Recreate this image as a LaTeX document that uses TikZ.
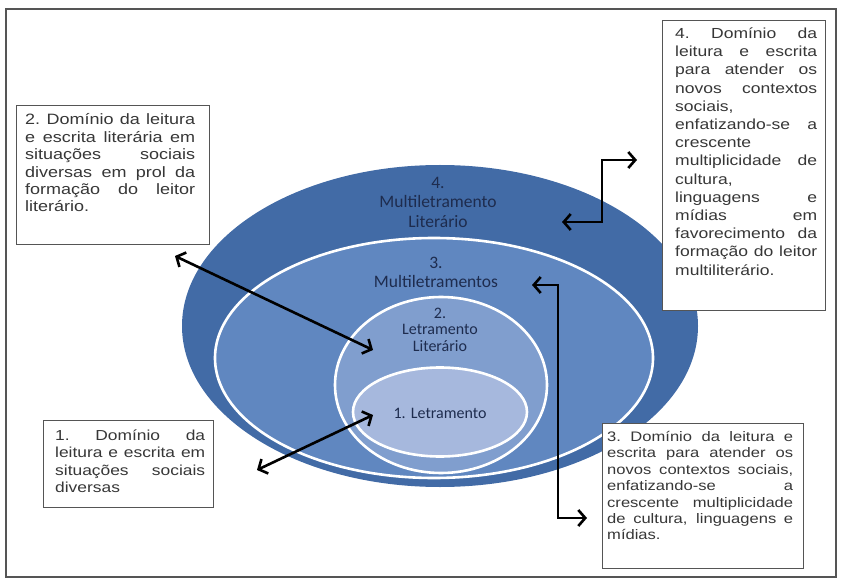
\documentclass[tikz,border=0pt]{standalone}
\usepackage{fontspec}
\setmainfont{Liberation Sans}
\newfontfamily\boxfont{Liberation Sans}[FakeStretch=1.2]
\newfontfamily\lblfont{Carlito}
\usetikzlibrary{arrows.meta,shapes.geometric}
\definecolor{blueA}{RGB}{66,107,166}
\definecolor{blueB}{RGB}{96,135,192}
\definecolor{blueC}{RGB}{128,158,206}
\definecolor{blueD}{RGB}{166,184,221}
\definecolor{navy}{RGB}{30,44,78}
\definecolor{boxtext}{RGB}{55,55,55}
\definecolor{boxline}{RGB}{85,85,85}
\newlength\jw
\newcommand\jline[1]{\leavevmode\hbox to \jw{\spaceskip=.25em plus 1fil\xspaceskip=.25em plus 1fil\relax #1}}
\tikzset{
  ring/.style={ellipse, inner sep=0pt, draw=white, line width=2.6pt},
  lbl/.style={text=navy, align=center, text width=170pt, inner sep=0pt, anchor=base},
  infobox/.style={draw=boxline, line width=1.4pt, fill=white, anchor=north west, inner sep=0pt},
  boxtxt/.style={text=boxtext, align=left, inner sep=0pt, anchor=base west},
  arr/.style={line width=2.6pt, black, {Straight Barb[length=7pt,width=16pt]}-{Straight Barb[length=7pt,width=16pt]}}
}
\begin{document}
\begin{tikzpicture}[x=1pt,y=-1pt]
\useasboundingbox (0,0) rectangle (841,580);
\fill[white] (0,0) rectangle (841,580);
\draw[line width=1.6pt, boxline] (6,9) rectangle (836,577);

% ellipses
\node[ellipse, inner sep=0pt, fill=blueA, minimum width=516pt, minimum height=322pt] (e4) at (440,326) {};
\node[ring, fill=blueB, minimum width=438pt, minimum height=240pt] (e3) at (434,358) {};
\node[ring, fill=blueC, minimum width=212pt, minimum height=176pt] (e2) at (441,385) {};
\node[ring, fill=blueD, minimum width=174pt, minimum height=89pt] (e1) at (440,412) {};

% ellipse labels
\node[lbl, font=\lblfont\fontsize{17.5}{19.5}\selectfont] (l4) at (438,188.5) {4.\\Multiletramento\\Literário};
\node[lbl, font=\lblfont\fontsize{17.5}{19.5}\selectfont] (l3) at (436,268.5) {3.\\Multiletramentos};
\node[lbl, font=\lblfont\fontsize{16}{16.5}\selectfont] (l2) at (440,318) {2.\\Letramento\\Literário};
\node[lbl, font=\lblfont\fontsize{16}{18}\selectfont] (l1) at (440,418) {1.\ Letramento};

% boxes
\node[infobox, minimum width=193pt, minimum height=139pt] (b2) at (16,105) {};
\node[boxtxt, text width=170pt, font=\boxfont\fontsize{15}{17.4}\selectfont] (t2) at (25,125) {%
\setlength\jw{170pt}%
\jline{2. Domínio da leitura}\\
\jline{e escrita literária em}\\
\jline{situações sociais}\\
\jline{diversas em prol da}\\
\jline{formação do leitor}\\
literário.};

\node[infobox, minimum width=163pt, minimum height=290pt] (b4) at (662,20) {};
\node[boxtxt, text width=142pt, font=\boxfont\fontsize{14.6}{18.2}\selectfont] (t4) at (675,38.5) {%
\setlength\jw{142pt}%
\jline{4. Domínio da}\\
\jline{leitura e escrita}\\
\jline{para atender os}\\
\jline{novos contextos}\\
sociais,\\
\jline{enfatizando-se a}\\
crescente\\
\jline{multiplicidade de}\\
cultura,\\
\jline{linguagens e}\\
\jline{mídias em}\\
\jline{favorecimento da}\\
\jline{formação do leitor}\\
multiliterário.};

\node[infobox, minimum width=170pt, minimum height=87pt] (b1) at (43,420) {};
\node[boxtxt, text width=150pt, font=\boxfont\fontsize{14.5}{17.6}\selectfont] (t1) at (55,440) {%
\setlength\jw{150pt}%
\jline{1. Domínio da}\\
\jline{leitura e escrita em}\\
\jline{situações sociais}\\
diversas};

\node[infobox, minimum width=201pt, minimum height=145pt] (b3) at (602,423) {};
\node[boxtxt, text width=186pt, font=\boxfont\fontsize{13.8}{16.4}\selectfont] (t3) at (607,441.5) {%
\setlength\jw{186pt}%
\jline{3. Domínio da leitura e}\\
\jline{escrita para atender os}\\
\jline{novos contextos sociais,}\\
\jline{enfatizando-se a}\\
\jline{crescente multiplicidade}\\
\jline{de cultura, linguagens e}\\
mídias.};

% connector end points
\coordinate (a2a) at (175,256);
\coordinate (a2b) at (373,350);
\coordinate (a1a) at (257,470);
\coordinate (a1b) at (373,415);
\coordinate (a4a) at (562,222);
\coordinate (a4b) at (637,160);
\coordinate (a3a) at (532,285);
\coordinate (a3b) at (587,518);

\draw[arr] (a2a) -- (a2b);
\draw[arr] (a1a) -- (a1b);
\draw[arr] (a4a) -- ++(40,0) |- (a4b);
\draw[arr] (a3a) -- ++(26,0) |- (a3b);
\end{tikzpicture}
\end{document}
